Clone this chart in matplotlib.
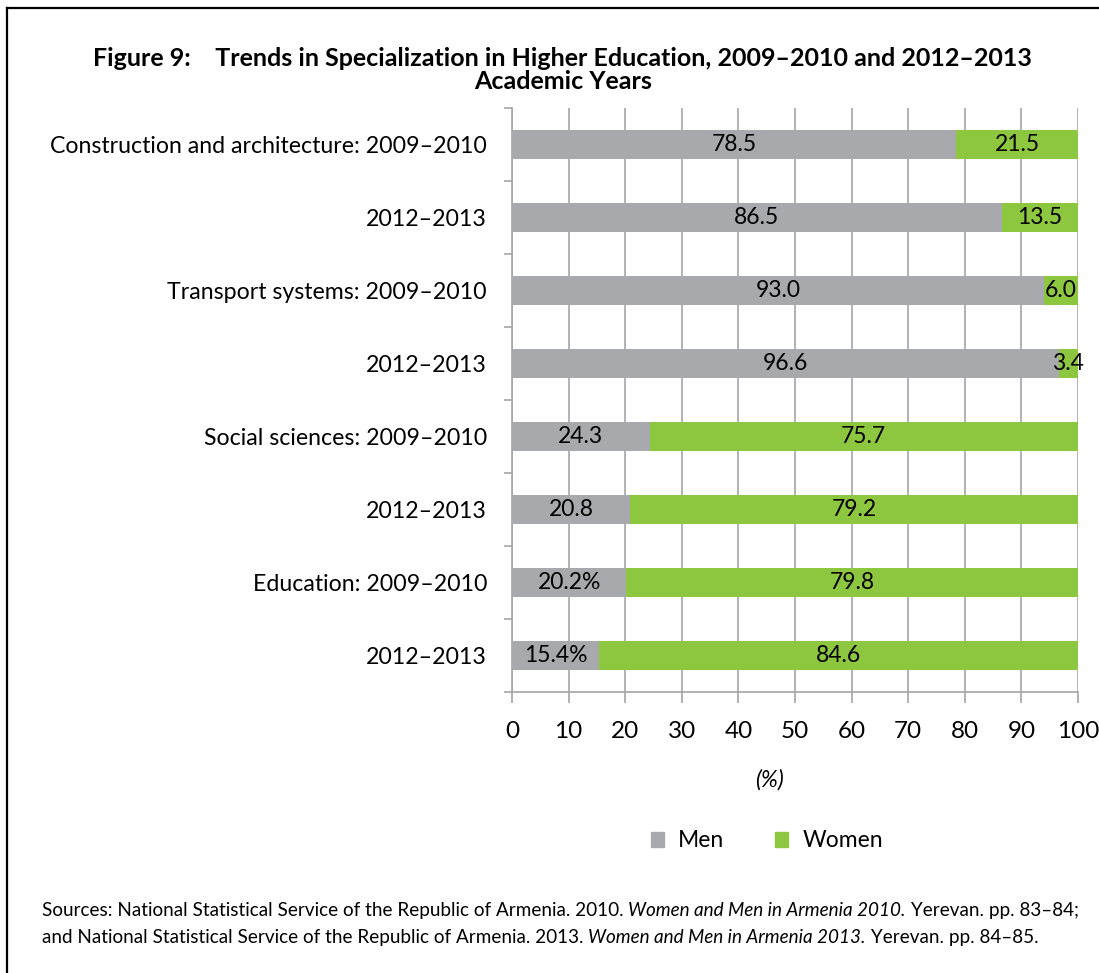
import matplotlib
matplotlib.use("Agg")
import matplotlib.pyplot as plt
from matplotlib.lines import Line2D
import numpy as np

plt.rcParams['font.family'] = ['Lato', 'DejaVu Sans']

categories = ["Construction and architecture: 2009\u20132010", "2012\u20132013",
              "Transport systems: 2009\u20132010", "2012\u20132013",
              "Social sciences: 2009\u20132010", "2012\u20132013",
              "Education: 2009\u20132010", "2012\u20132013"]
men = [78.5, 86.5, 93.0, 96.6, 24.3, 20.8, 20.2, 15.4]
women = [21.5, 13.5, 6.0, 3.4, 75.7, 79.2, 79.8, 84.6]
men_labels = ["78.5", "86.5", "93.0", "96.6", "24.3", "20.8", "20.2%", "15.4%"]
women_labels = ["21.5", "13.5", "6.0", "3.4", "75.7", "79.2", "79.8", "84.6"]
xticks = [0, 10, 20, 30, 40, 50, 60, 70, 80, 90, 100]

grey = "#a7a9ac"
green = "#8dc63f"
axcol = "#a6a6a6"

fig = plt.figure(figsize=(10.99, 9.73), dpi=100)
ax = fig.add_axes([0.4659, 0.2888, 0.515, 0.6002])

y = np.arange(len(categories))
men_w = [100 - w for w in women]   # grey fills up to the green segment
ax.barh(y, men_w, height=0.41, color=grey, zorder=3)
ax.barh(y, women, left=men_w, height=0.41, color=green, zorder=3)

for i in range(len(categories)):
    ax.text(men_w[i] / 2, i, men_labels[i], ha='center', va='center', fontsize=16.5, zorder=4)
    ax.text(men_w[i] + women[i] / 2, i, women_labels[i], ha='center', va='center', fontsize=16.5, zorder=4)

ax.set_xlim(0, 100)
ax.set_ylim(len(categories) - 0.5, -0.5)
ax.set_xticks(xticks)
ax.set_xticklabels([str(t) for t in xticks], fontsize=17.5)
ax.set_yticks(y)
ax.set_yticklabels(categories, fontsize=16.7)
ax.set_yticks(np.arange(-0.5, len(categories), 1), minor=True)
ax.tick_params(axis='y', which='major', length=0, pad=18)
ax.tick_params(axis='y', which='minor', length=6, color=axcol, width=1.2)
ax.tick_params(axis='x', length=8, color=axcol, width=1.2, pad=13)
ax.grid(axis='x', color=axcol, linewidth=1.2, zorder=0)
for s in ['top', 'right']:
    ax.spines[s].set_visible(False)
for s in ['left', 'bottom']:
    ax.spines[s].set_color(axcol)
    ax.spines[s].set_linewidth(1.2)

ax.text(0.455, -0.15, "(%)", transform=ax.transAxes, ha='center', va='center',
        fontsize=16.5, style='italic')

ax.legend(handles=[plt.Rectangle((0, 0), 1, 1, color=grey), plt.Rectangle((0, 0), 1, 1, color=green)],
          labels=["Men", "Women"], loc='center', bbox_to_anchor=(0.45, -0.255), ncol=2,
          frameon=False, fontsize=16.5, handlelength=0.6, handleheight=0.6, columnspacing=2.2,
          handletextpad=0.6)

fig.text(0.512, 0.94, "Figure 9:    Trends in Specialization in Higher Education, 2009\u20132010 and 2012\u20132013",
         ha='center', va='center', fontsize=18, fontweight='bold')
fig.text(0.512, 0.916, "Academic Years", ha='center', va='center', fontsize=18, fontweight='bold')

# source note, italic titles chained after the plain text
line1 = [("Sources: National Statistical Service of the Republic of Armenia. 2010. ", 'normal'),
         ("Women and Men in Armenia 2010.", 'italic'),
         (" Yerevan. pp. 83\u201384;", 'normal')]
line2 = [("and National Statistical Service of the Republic of Armenia. 2013. ", 'normal'),
         ("Women and Men in Armenia 2013.", 'italic'),
         (" Yerevan. pp. 84\u201385.", 'normal')]
for yy, parts in [(0.056, line1), (0.028, line2)]:
    prev = fig.text(0.038, yy, parts[0][0], fontsize=13.6, va='bottom', ha='left')
    for txt, st in parts[1:]:
        prev = ax.annotate(txt, xy=(1, 0), xycoords=prev, fontsize=13.6, style=st,
                           fontweight='normal', va='bottom', ha='left', annotation_clip=False)

# outer frame (top and left edges)
fig.add_artist(Line2D([7 / 1099, 1], [1 - 8 / 973, 1 - 8 / 973], color='black', linewidth=1.6))
fig.add_artist(Line2D([7 / 1099, 7 / 1099], [0, 1 - 8 / 973], color='black', linewidth=1.6))

fig.savefig("out.png", dpi=100)
